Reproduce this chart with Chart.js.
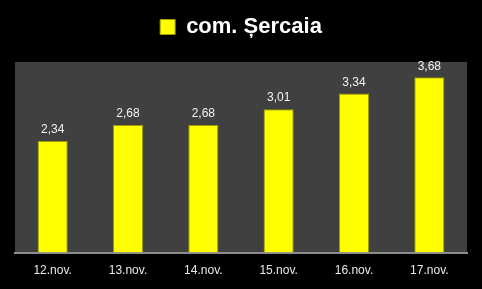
<!DOCTYPE html>
<html>
<head>
<meta charset="utf-8">
<script src="https://cdn.jsdelivr.net/npm/chart.js@4.4.0/dist/chart.umd.min.js"></script>
<style>
  html, body { margin: 0; padding: 0; background: #000; }
  #wrap { width: 482px; height: 289px; }
</style>
</head>
<body>
<div id="wrap"><canvas id="c" width="482" height="289"></canvas></div>
<script>
const seriesName = "com. Șercaia";
const days = ["12.nov.", "13.nov.", "14.nov.", "15.nov.", "16.nov.", "17.nov."];
const values = [2.34, 2.68, 2.68, 3.01, 3.34, 3.68];

// grey plot background behind the bars
const plotBg = {
    id: "plotBg",
    beforeDraw(chart) {
        const a = chart.chartArea, ctx = chart.ctx;
        ctx.save();
        ctx.fillStyle = "#404040";
        ctx.fillRect(a.left, a.top, a.right - a.left, a.bottom - a.top);
        ctx.restore();
    },
};

// extra room under the legend
const legendGap = {
    id: "legendGap",
    beforeInit(chart) {
        const fit = chart.legend.fit;
        chart.legend.fit = function () {
            fit.call(this);
            this.height += 14;
        };
    },
};

// value labels above each bar, with decimal comma
const valueLabels = {
    id: "valueLabels",
    afterDatasetsDraw(chart) {
        const ctx = chart.ctx;
        const meta = chart.getDatasetMeta(0);
        ctx.save();
        ctx.fillStyle = "#f2f2f2";
        ctx.font = "12px 'Liberation Sans', sans-serif";
        ctx.textAlign = "center";
        ctx.textBaseline = "bottom";
        meta.data.forEach((bar, i) => {
            ctx.fillText(values[i].toFixed(2).replace(".", ","), bar.x, bar.y - 5);
        });
        ctx.restore();
    },
};

new Chart(document.getElementById("c"), {
    type: "bar",
    data: {
        labels: days,
        datasets: [{
            label: seriesName,
            data: values,
            backgroundColor: "#ffff00",
            borderColor: "#9c9c00",
            borderWidth: 1,
            barPercentage: 0.4,
            categoryPercentage: 1,
        }],
    },
    options: {
        responsive: false,
        animation: false,
        layout: { padding: { left: 15, right: 15, top: 2, bottom: 0 } },
        plugins: {
            legend: {
                labels: {
                    color: "#ffffff",
                    boxWidth: 15,
                    boxHeight: 15,
                    padding: 14,
                    font: { family: "'Liberation Sans', sans-serif", size: 22, weight: "bold" },
                },
            },
            tooltip: { enabled: false },
        },
        scales: {
            x: {
                grid: { display: false, drawTicks: false },
                border: { display: true, color: "#8c8c8c", width: 2 },
                ticks: { color: "#e8e8e8", padding: 11, font: { family: "'Liberation Sans', sans-serif", size: 12 } },
            },
            y: {
                display: false,
                min: 0,
                max: 4,
            },
        },
    },
    plugins: [plotBg, legendGap, valueLabels],
});
</script>
</body>
</html>
